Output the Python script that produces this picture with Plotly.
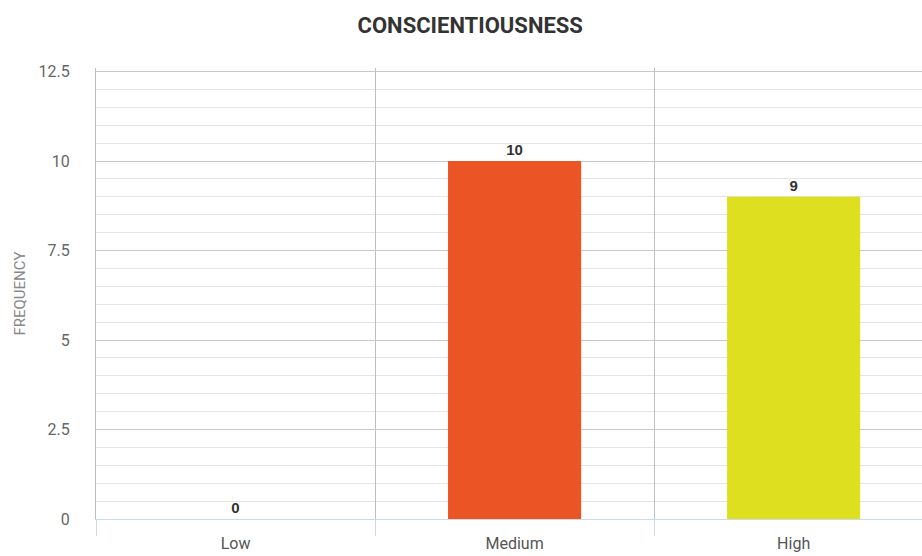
import plotly.graph_objects as go

categories = ["Low", "Medium", "High"]
frequency = [0, 10, 9]
bar_colors = ["#EB5424", "#EB5424", "#DEE01F"]

fig = go.Figure(
    go.Bar(
        x=categories,
        y=frequency,
        marker=dict(color=bar_colors, line=dict(width=0)),
        width=0.477,
        text=[f"<b>{v}</b>" for v in frequency],
        textposition="outside",
        textfont=dict(family="Liberation Sans, Arial, sans-serif", size=15, color="#333333"),
        cliponaxis=False,
    )
)

label_font = "Roboto, sans-serif"

fig.update_layout(
    width=922,
    height=556,
    margin=dict(l=96, r=0, t=68, b=37),
    paper_bgcolor="white",
    plot_bgcolor="white",
    showlegend=False,
    title=dict(
        text="<b>CONSCIENTIOUSNESS</b>",
        x=0.51,
        xanchor="center",
        y=0.955,
        yanchor="middle",
        font=dict(family=label_font, size=22, color="#333333"),
    ),
    xaxis=dict(
        type="category",
        range=[-0.5, 2.46],
        tickson="boundaries",
        ticks="outside",
        ticklen=16,
        tickcolor="#C9DAEC",
        showgrid=True,
        gridcolor="#BFBFBF",
        gridwidth=1,
        showline=True,
        linecolor="#C9DAEC",
        linewidth=1,
        zeroline=False,
        ticklabelstandoff=10,
        tickfont=dict(family=label_font, size=16, color="#555555"),
    ),
    yaxis=dict(
        range=[0, 12.6],
        tickmode="array",
        tickvals=[0, 2.5, 5, 7.5, 10, 12.5],
        ticktext=["0", "2.5", "5", "7.5", "10", "12.5"],
        showgrid=True,
        gridcolor="#C8C8C8",
        gridwidth=1,
        minor=dict(tickmode="linear", tick0=0, dtick=0.5, showgrid=True,
                   gridcolor="#E4E4E4", gridwidth=1),
        zeroline=False,
        showline=True,
        linecolor="#BFBFBF",
        linewidth=1,
        ticks="",
        ticklabelstandoff=22,
        tickfont=dict(family=label_font, size=16, color="#666666"),
        title=dict(
            text="FREQUENCY",
            standoff=9,
            font=dict(family=label_font, size=15, color="#888888"),
        ),
    ),
)

fig.write_html("out.html")
